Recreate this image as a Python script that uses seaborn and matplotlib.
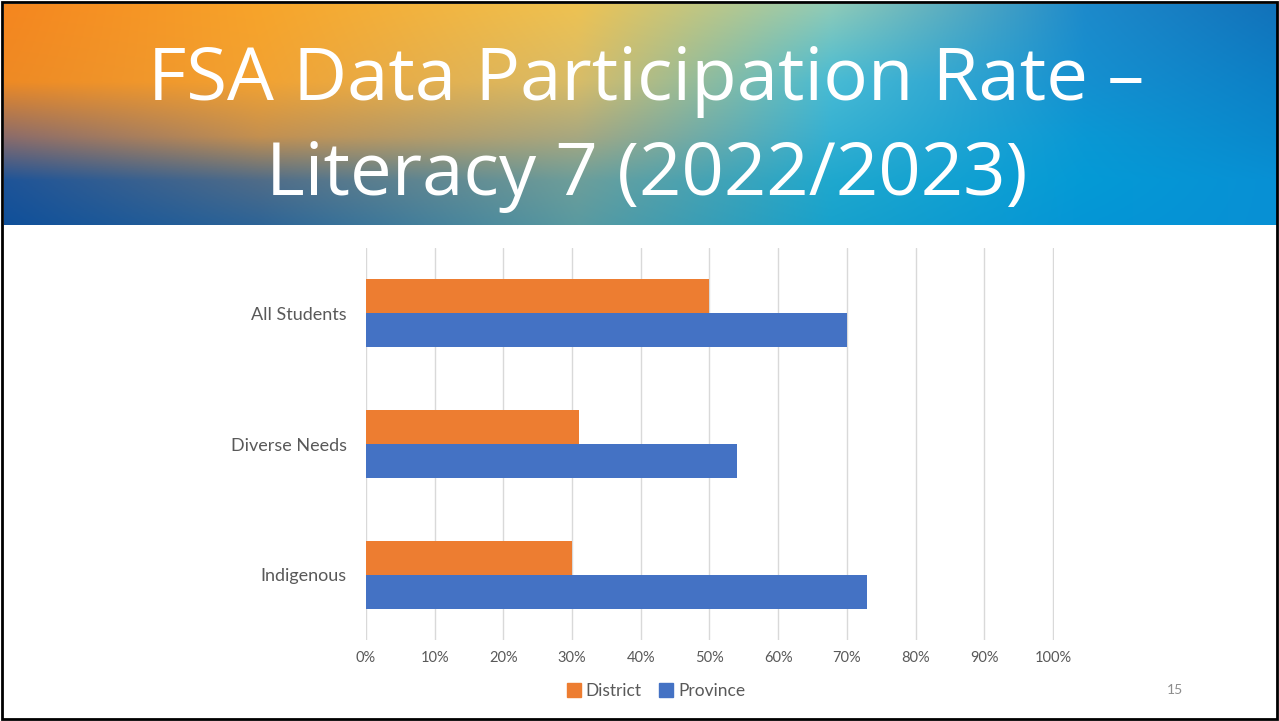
import numpy as np
import pandas as pd
import matplotlib.pyplot as plt
import seaborn as sns
from matplotlib.patches import Rectangle

# chart data
groups = ["All Students", "Diverse Needs", "Indigenous"]
district = [50, 31, 30]
province = [70, 54, 73]
series = ["District", "Province"]
xticks = [0, 10, 20, 30, 40, 50, 60, 70, 80, 90, 100]
xtick_labels = [f"{t}%" for t in xticks]

title_lines = ["FSA Data Participation Rate \u2013", "Literacy 7 (2022/2023)"]
page_number = "15"

df = pd.DataFrame({"group": groups, "District": district, "Province": province})
df = df.melt(id_vars="group", value_vars=series, var_name="series", value_name="rate")

sns.set_style("white")
plt.rcParams['font.family'] = ['Lato', 'DejaVu Sans']

W, H = 1279, 721
fig = plt.figure(figsize=(W / 100, H / 100), dpi=100)
fig.patch.set_facecolor("white")

# ---- banner gradient (decoration) ----
ctrl = np.array([
    ["#F5861F", "#F7A42A", "#EEC252", "#8FCBB8", "#1D8ACB", "#1272BA"],
    ["#EE8A24", "#F2A232", "#D8BC68", "#48BBD4", "#1590D0", "#0C80C6"],
    ["#8C6C6A", "#C49050", "#A8A880", "#35B0D2", "#0A98D4", "#0A88CC"],
    ["#1E5498", "#506C88", "#6D9E9A", "#1FA8CE", "#049AD6", "#0890D4"],
    ["#10509A", "#2E6496", "#5A9AA0", "#18A2CC", "#0496D6", "#0890D4"],
])
cx = np.array([0, 0.2, 0.45, 0.65, 0.85, 1.0])
cy = np.array([0, 0.35, 0.6, 0.8, 1.0])
rgb = np.array([[[int(c[i:i + 2], 16) / 255 for i in (1, 3, 5)] for c in row] for row in ctrl])
nx, ny = 400, 120
gx = np.linspace(0, 1, nx)
gy = np.linspace(0, 1, ny)
tmp = np.stack([np.stack([np.interp(gx, cx, rgb[r, :, k]) for k in range(3)], -1) for r in range(len(cy))])
img = np.stack([np.stack([np.interp(gy, cy, tmp[:, j, k]) for k in range(3)], -1) for j in range(nx)], 1)

bx = fig.add_axes([4 / W, 1 - 225 / H, 1272 / W, 221 / H])
bx.imshow(img, aspect="auto", extent=[0, 1, 1, 0])
bx.set_axis_off()
# axes coords: y=0 bottom, y=1 top
bx.text(0.505, 0.651, title_lines[0], color="white", fontsize=53.5, family=["Open Sans", "DejaVu Sans"],
        ha="center", va="center", transform=bx.transAxes)
bx.text(0.505, 0.222, title_lines[1], color="white", fontsize=53.5, family=["Open Sans", "DejaVu Sans"],
        ha="center", va="center", transform=bx.transAxes)

# ---- bar chart ----
ax = fig.add_axes([366 / W, 81 / H, 688 / W, 392 / H])
sns.barplot(data=df, y="group", x="rate", hue="series", orient="h",
            palette=["#ED7D31", "#4472C4"], saturation=1, width=0.52, linewidth=0,
            ax=ax, legend=False, zorder=3)
ax.set_xlim(0, 100.15)
ax.set_ylim(2.5, -0.5)
ax.set_xticks(xticks)
ax.set_xticklabels(xtick_labels)
ax.grid(axis="x", color="#D9D9D9", linewidth=1, zorder=0)
ax.set_axisbelow(True)
for s in ax.spines.values():
    s.set_visible(False)
ax.tick_params(axis="both", length=0, colors="#595959", labelsize=10.5)
ax.tick_params(axis="x", pad=8)
ax.tick_params(axis="y", pad=14, labelsize=13)
ax.set_xlabel("")
ax.set_ylabel("")

# legend
handles = [Rectangle((0, 0), 1, 1, color=c) for c in ["#ED7D31", "#4472C4"]]
fig.legend(handles, series, loc="center", bbox_to_anchor=(656 / W, 1 - 691 / H), ncol=2,
           frameon=False, fontsize=12.5, handlelength=0.8, handleheight=0.8, handletextpad=0.3,
           columnspacing=1.0, labelcolor="#595959")

fig.text(1175 / W, 1 - 690 / H, page_number, color="#8C8C8C", fontsize=10, ha="center", va="center")

# slide frame
fig.add_artist(Rectangle((2 / W, 2 / H), 1 - 4 / W, 1 - 4 / H, transform=fig.transFigure,
                         fill=False, edgecolor="black", linewidth=2))

fig.savefig("out.png", dpi=100, facecolor="white")
